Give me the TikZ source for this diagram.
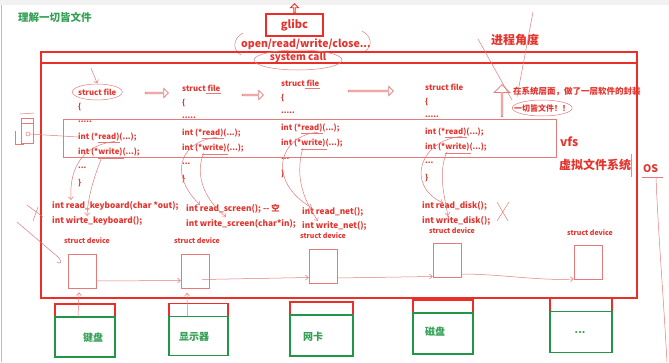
\documentclass[tikz,border=0pt]{standalone}
\usepackage{fontspec}
\setmainfont{Noto Sans CJK SC}
\usetikzlibrary{arrows.meta,shapes.arrows,positioning}

\definecolor{boxred}{RGB}{236,46,40}
\definecolor{txtred}{RGB}{228,52,46}
\definecolor{penred}{RGB}{228,122,122}
\definecolor{boxgreen}{RGB}{34,150,72}
\definecolor{txtgreen}{RGB}{52,160,84}

\newcommand\moredots{...}

\tikzset{
  redbox/.style={draw=boxred,line width=1.8pt},
  greenbox/.style={draw=boxgreen,line width=1.8pt},
  scribble/.style={draw=penred,line width=0.5pt},
  barb/.style={-{Straight Barb[length=3pt,width=5pt]}},
  code/.style={anchor=west,inner sep=0pt,text=txtred,font=\fontsize{7.8}{8}\selectfont\bfseries},
  fncall/.style={anchor=west,inner sep=0pt,text=txtred,font=\fontsize{8.3}{9}\selectfont\bfseries},
  devlabel/.style={inner sep=0pt,text=txtred,font=\fontsize{7}{8}\selectfont\bfseries},
  devbox/.style={scribble,minimum width=28pt,minimum height=34pt,inner sep=0pt},
  hollow/.style={single arrow,scribble,line width=0.7pt,inner sep=0pt},
  portbox/.style={redbox,minimum height=13pt,inner sep=0pt,outer sep=0pt},
  hwbox/.style={greenbox,minimum height=40pt,inner sep=0pt,outer sep=0pt},
  hwlabel/.style={inner sep=0pt,text=txtgreen,font=\fontsize{10}{11}\selectfont\bfseries},
  bigred/.style={inner sep=0pt,text=txtred,font=\fontsize{#1}{13}\selectfont\bfseries},
}

\begin{document}
\begin{tikzpicture}[x=1pt,y=-1pt]
  \useasboundingbox (0,0) rectangle (669,362);
  \fill[white] (0,0) rectangle (669,362);
  \fill[gray!10] (0,0) rectangle (669,5);
  \draw[gray!50,line width=1pt] (1.5,5) -- (1.5,362);

  \node[anchor=west,inner sep=0pt,text=txtgreen,font=\fontsize{10.5}{12}\selectfont\bfseries] (title) at (18,17) {理解一切皆文件};

  % user side
  \node[redbox,minimum width=57pt,minimum height=22pt,inner sep=0pt,text=txtred,font=\fontsize{11}{12}\selectfont\bfseries] (glibc) at (294.5,25) {glibc};
  \node[single arrow,draw=boxred,line width=0.8pt,shape border rotate=90,minimum height=9pt,minimum width=8pt,single arrow head extend=1.5pt,inner sep=0pt,anchor=tail] (up) at (glibc.north) {};
  \node[bigred=10.5] (calls) at (306,44) {open/read/write/close...};
  \draw[scribble] (243,33) .. controls (233,38) and (232,50) .. (241,55);
  \draw[scribble] (362,31) .. controls (372,36) and (373,47) .. (364,52);

  % kernel
  \draw[redbox] (41,52) rectangle (637,298);
  \draw[redbox] (41,63) -- (637,63);
  \node[bigred=10] (syscall) at (298,58) {system call};
  \draw[scribble] ([yshift=-2pt]syscall.center) ellipse (44pt and 10pt);

  % process view
  \node[bigred=12] (view) at (515,40) {进程角度};
  \node[anchor=west,bigred=8.5] (wrap) at (513,91) {在系统层面，做了一层软件的封装};
  \node[anchor=west,bigred=8] (every) at (514,108) {一切皆文件！！};
  \draw[scribble] (every) ellipse (30pt and 8pt);
  \draw[scribble] (478,39) -- (512,100);
  \draw[scribble] (533,12) -- (517,97);
  \node[hollow,shape border rotate=90,minimum height=32pt,minimum width=16pt,single arrow head extend=3pt] (lift) at (502,101) {};

  % struct file
  \foreach \i/\cx/\cy in {1/78/92,2/182/88,3/281/83,4/425/87}{
    \node[code] (sf\i) at (\cx,\cy) {struct file};
    \node[code] (ob\i) at (\cx,\cy+15) {\{};
    \node[code] (dt\i) at (\cx,\cy+30) {.....};
    \node[code] (rd\i) at (\cx,\cy+45) {int (*read)(...);};
    \node[code] (wr\i) at (\cx,\cy+60.5) {int (*write)(...);};
    \node[code] (el\i) at (\cx,\cy+76) {...};
    \node[code] (cb\i) at (\cx,\cy+91) {\}};
    \draw[scribble] ([xshift=20pt,yshift=-1pt]rd\i.south west) -- ([xshift=42pt,yshift=-1pt]rd\i.south west);
    \draw[scribble] ([xshift=20pt,yshift=-1pt]wr\i.south west) -- ([xshift=46pt,yshift=-1pt]wr\i.south west);
  }
  \draw[scribble] (sf1) ellipse (25pt and 8pt);
  \draw[scribble,barb] (91,68) -- ([yshift=5pt]sf1.north);
  \draw[scribble] ([xshift=-15pt,yshift=-1.5pt]sf2.south east) -- ([yshift=-1.5pt]sf2.south east);
  \draw[scribble] ([xshift=-15pt,yshift=-1.5pt]sf3.south east) -- ([yshift=-1.5pt]sf3.south east);
  \node[hollow,minimum height=23pt,minimum width=9pt,single arrow head extend=2pt] (ha1) at (156.5,93) {};
  \node[hollow,minimum height=21pt,minimum width=9pt,single arrow head extend=2pt] (ha2) at (252.5,95) {};
  \node[hollow,minimum height=45pt,minimum width=9pt,single arrow head extend=2pt] (ha3) at (370.5,91) {};

  % file sketch on the left
  \draw[scribble] (20,114) -- (34,113);
  \draw[scribble] (21,118) rectangle (33,143);
  \draw[scribble] (21,123) -- (33,123);
  \draw[scribble] (28,134) circle (2pt);
  \draw[scribble] (15,131) -- (15,144) -- (24,144);
  \draw[scribble] (30,134) -- (rd1.west);

  % vfs layer
  \draw[scribble] (63,119) rectangle (556,157);
  \node[anchor=west,bigred=12] (vfs) at (560,142) {vfs};
  \node[anchor=west,bigred=12] (vfsname) at (559,165) {虚拟文件系统};
  \draw[gray!70,line width=0.6pt] (631,154) -- (631,177);
  \node[anchor=west,bigred=10.5] (os) at (643,169) {OS};
  \draw[scribble] (642,177) -- (663,177);
  \draw[scribble] (656,177) .. controls (658,230) and (663,290) .. (667,362);

  % driver functions
  \node[fncall] (rk) at (52,206) {int read\_keyboard(char *out);};
  \node[fncall] (wk) at (52,221) {int wirte\_keyboard();};
  \node[fncall] (rs) at (186,209) {int read\_screen(); -{}- 空};
  \node[fncall] (ws) at (186,224) {int write\_screen(char*in);};
  \node[fncall] (rn) at (302,212) {int read\_net();};
  \node[fncall] (wn) at (302,226) {int write\_net();};
  \node[fncall] (rdk) at (422,206) {int read\_disk();};
  \node[fncall] (wdk) at (422,221) {int write\_disk();};

  % pointers to drivers
  \draw[scribble,barb] ([xshift=-22pt]rd1.south east) .. controls (85,145) and (69,165) .. (71,200);
  \draw[scribble,barb] ([xshift=-38pt]wr1.south east) .. controls (95,175) and (88,195) .. (87,216);
  \draw[scribble,barb] ([xshift=-24pt]rd2.south east) .. controls (185,140) and (165,170) .. (200,205);
  \draw[scribble,barb] ([xshift=-40pt]wr2.south east) .. controls (194,175) and (205,200) .. (226,217);
  \draw[scribble,barb] ([xshift=-22pt]rd3.south east) .. controls (280,135) and (265,180) .. (312,208);
  \draw[scribble,barb] ([xshift=-40pt]wr3.south east) .. controls (296,172) and (300,195) .. (318,221);
  \draw[scribble,barb] ([xshift=-22pt]rd4.south east) .. controls (420,140) and (405,185) .. (443,203);
  \draw[scribble,barb] ([xshift=-40pt]wr4.south east) .. controls (438,172) and (444,195) .. (448,216);
  \draw[scribble] (497,202) -- (508,221);
  \draw[scribble] (509,202) -- (497,221);
  \draw[scribble] (27,205) -- (43,217);
  \draw[scribble] (38,207) -- (33,221);
  \draw[scribble] (17,222) -- (58,257) .. controls (63,262) and (60,265) .. (57,262);

  % devices
  \foreach \i/\dx/\dy/\lx/\ly in {1/82/271/87/241,2/195/271.5/197/241,3/323/266.5/323/236,4/447/260.5/452/231,5/588/262.5/590/233}{
    \node[devbox] (dv\i) at (\dx,\dy) {};
    \node[devlabel] (sd\i) at (\lx,\ly) {struct device};
  }
  \draw[scribble,barb] ([yshift=-10pt]dv1.east) -- ([yshift=-9pt]dv2.west);
  \draw[scribble,barb] ([xshift=-7pt,yshift=-8pt]dv2.east) -- ([yshift=-11pt]dv3.west);
  \draw[scribble,barb] ([yshift=-11.5pt]dv3.east) -- ([yshift=-16pt]dv4.west);
  \draw[scribble,barb] ([yshift=-13.5pt]dv4.east) .. controls (500,274) and (540,281) .. ([yshift=-16.5pt]dv5.west);

  % hardware
  \foreach \i/\px/\py/\w/\h/\lx/\ly/\txt in {1/85/310.5/60/40/93/338/键盘,2/198.5/310/59/39/194/337/显示器,3/321.5/308.5/63/41/313/337/网卡,4/443/306.5/60/41/435/332/磁盘,5/581/305/62/41/580/333/\moredots}{
    \node[portbox,minimum width=\w pt] (rb\i) at (\px,\py) {};
    \node[hwbox,minimum width=\w pt,minimum height=\h pt,below=0pt of rb\i] (gb\i) {};
    \node[hwlabel] (hw\i) at (\lx,\ly) {\txt};
  }
  \draw[scribble,barb] ([xshift=-7pt]rb1.south) -- ([xshift=-3pt,yshift=-4pt]dv1.south);
  \draw[scribble,barb] ([xshift=-11pt]rb2.south) -- ([xshift=-8pt,yshift=-4pt]dv2.south);
\end{tikzpicture}
\end{document}
